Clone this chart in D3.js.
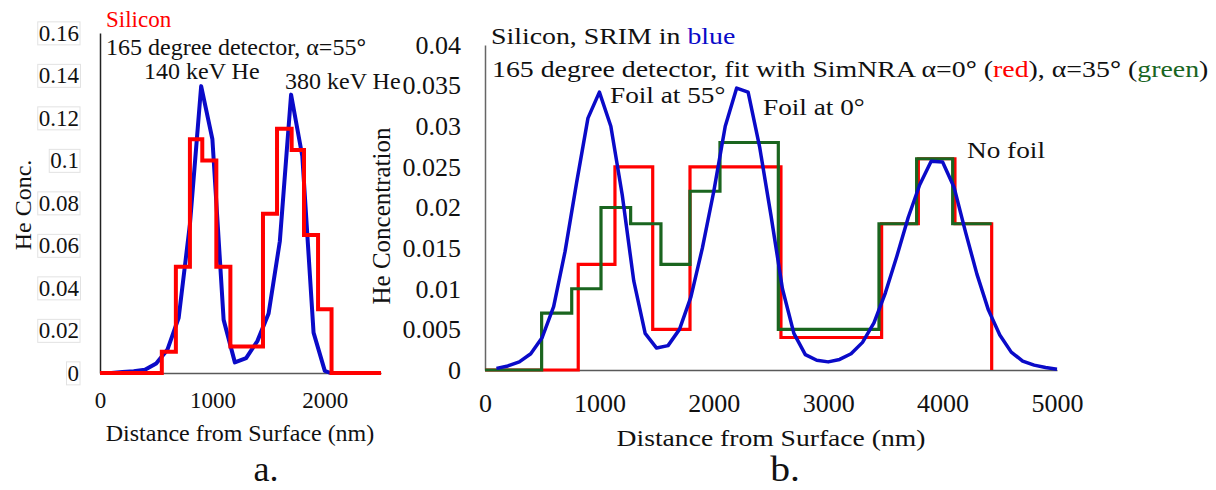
<!DOCTYPE html>
<html>
<head>
<meta charset="utf-8">
<script src="https://cdn.jsdelivr.net/npm/d3@7/dist/d3.min.js"></script>
<style>
  body { margin: 0; background: #fff; }
  svg text { font-family: "Liberation Serif", "Times New Roman", serif; fill: #111; }
</style>
</head>
<body>
<div id="chart"></div>
<script>
    // ---- panel a: SRIM profile (blue) and SimNRA fit (red), alpha = 55
    var aSrimDepth = [100, 200, 300, 400, 500, 600, 700, 800, 900, 1000, 1100, 1200, 1300, 1400, 1500, 1600, 1700, 1800, 1900, 2000, 2050];
    var aSrimConc = [0, 0.0005, 0.0008, 0.0015, 0.0045, 0.011, 0.026, 0.07, 0.135, 0.11, 0.025, 0.005, 0.007, 0.015, 0.028, 0.062, 0.131, 0.102, 0.019, 0.001, 0];

    // step fit: level[i] holds from edge[i] to edge[i+1]
    var aFitEdge = [0, 550, 675, 800, 910, 1035, 1160, 1450, 1575, 1705, 1815, 1940, 2060, 2500];
    var aFitLevel = [0, 0.01, 0.05, 0.11, 0.1, 0.05, 0.0125, 0.075, 0.115, 0.105, 0.065, 0.03, 0, 0];

    var aYTicks = [0, 0.02, 0.04, 0.06, 0.08, 0.1, 0.12, 0.14, 0.16];
    var aYTickLabels = ["0", "0.02", "0.04", "0.06", "0.08", "0.1", "0.12", "0.14", "0.16"];
    var aXTicks = [0, 1000, 2000];
    var aXTickLabels = ["0", "1000", "2000"];

    // ---- panel b: SRIM (blue), SimNRA alpha=0 (red), alpha=35 (green)
    var bSrimDepth = [100, 200, 300, 400, 500, 600, 700, 800, 900, 1000,
      1100, 1200, 1300, 1400, 1500, 1600, 1700, 1800, 1900, 2000,
      2100, 2200, 2300, 2400, 2500, 2600, 2700, 2800, 2900, 3000,
      3100, 3200, 3300, 3400, 3500, 3600, 3700, 3800, 3900, 4000,
      4100, 4200, 4300, 4400, 4500, 4600, 4700, 4800, 4900, 5000];
    var bSrimConc = [0.0002, 0.0005, 0.001, 0.002, 0.004, 0.0078, 0.0146, 0.023, 0.031, 0.0342,
      0.03, 0.0215, 0.011, 0.0045, 0.0027, 0.003, 0.005, 0.009, 0.015, 0.022,
      0.03, 0.0347, 0.0342, 0.0275, 0.019, 0.01, 0.0045, 0.0019, 0.0012, 0.001,
      0.0013, 0.002, 0.0034, 0.0058, 0.0095, 0.014, 0.0188, 0.0228, 0.0257, 0.0256,
      0.0225, 0.017, 0.0118, 0.0074, 0.0043, 0.0022, 0.0011, 0.0006, 0.0003, 0.0001];

    var bRedEdge = [0, 815, 1136, 1466, 1792, 2587, 3467, 3788, 4108, 4429];
    var bRedLevel = [0, 0.013, 0.025, 0.005, 0.025, 0.004, 0.018, 0.026, 0.018, 0];

    var bGreenEdge = [0, 495, 758, 1014, 1273, 1538, 1792, 2054, 2564, 3444, 3773, 4088, 4429];
    var bGreenLevel = [0, 0.007, 0.01, 0.02, 0.018, 0.013, 0.022, 0.028, 0.005, 0.018, 0.026, 0.018, 0.018];

    var bYTicks = [0, 0.005, 0.01, 0.015, 0.02, 0.025, 0.03, 0.035, 0.04];
    var bYTickLabels = ["0", "0.005", "0.01", "0.015", "0.02", "0.025", "0.03", "0.035", "0.04"];
    var bXTicks = [0, 1000, 2000, 3000, 4000, 5000];
    var bXTickLabels = ["0", "1000", "2000", "3000", "4000", "5000"];

    var blue = "#0a0ac8", red = "#ff0000", green = "#1a651f";

    var svg = d3.select("#chart")
      .append("svg")
      .attr("width", 1216)
      .attr("height", 490);

    // helper for plain labels; sx stretches text sideways like the original image
    function label(x, y, str, size, anchor, sx) {
      return svg.append("text")
        .attr("transform", "translate(" + x + "," + y + ")" + (sx ? " scale(" + sx + ",1)" : ""))
        .attr("font-size", size)
        .attr("text-anchor", anchor || "start")
        .text(str);
    }

    function stepPoints(edge, level) {
      return edge.map(function (e, i) { return [e, level[i]]; });
    }

    // =================== panel a ===================
    var xA = d3.scaleLinear().domain([0, 2500]).range([100, 381]);
    var yA = d3.scaleLinear().domain([0, 0.16]).range([373, 33]);

    var yAxisA = svg.append("g")
      .attr("transform", "translate(100,0)")
      .call(d3.axisLeft(yA).tickValues(aYTicks)
        .tickFormat(function (d, i) { return aYTickLabels[i]; })
        .tickSize(0).tickPadding(21))
      .attr("font-family", null)
      .attr("font-size", 23);
    yAxisA.select(".domain").attr("stroke", "#222").attr("stroke-width", 1.5);

    // the original labels sit in faint boxes
    yAxisA.selectAll(".tick").each(function () {
      var b = d3.select(this).select("text").node().getBBox();
      d3.select(this).insert("rect", "text")
        .attr("x", b.x - 1).attr("y", b.y + 1)
        .attr("width", b.width + 2).attr("height", b.height - 2)
        .attr("fill", "none").attr("stroke", "#e2e2e2").attr("stroke-width", 1);
    });

    var xAxisA = svg.append("g")
      .attr("transform", "translate(0,373)")
      .call(d3.axisBottom(xA).tickValues(aXTicks)
        .tickFormat(function (d, i) { return aXTickLabels[i]; })
        .tickSize(0).tickPadding(19))
      .attr("font-family", null)
      .attr("font-size", 23);
    xAxisA.select(".domain").attr("stroke", "#595959").attr("stroke-width", 1.5);

    var lineA = d3.line()
      .x(function (d) { return xA(d[0]); })
      .y(function (d) { return yA(d[1]); });

    svg.append("path")
      .datum(aSrimDepth.map(function (d, i) { return [d, aSrimConc[i]]; }))
      .attr("d", lineA)
      .attr("fill", "none").attr("stroke", blue).attr("stroke-width", 4)
      .attr("stroke-linejoin", "round");

    svg.append("path")
      .datum(stepPoints(aFitEdge, aFitLevel))
      .attr("d", lineA.curve(d3.curveStepAfter))
      .attr("fill", "none").attr("stroke", red).attr("stroke-width", 4);

    label(106, 27, "Silicon", 23).style("fill", red);
    label(106, 55, "165 degree detector, α=55", 24).append("tspan").attr("font-weight", "bold").text("°");
    label(144, 79, "140 keV He", 24);
    label(285, 89, "380 keV He", 24);

    svg.append("text")
      .attr("transform", "translate(31,205) rotate(-90)")
      .attr("font-size", 24).attr("text-anchor", "middle")
      .text("He Conc.");

    label(240, 441, "Distance from Surface (nm)", 24, "middle");
    label(266, 481, "a.", 36, "middle");

    // =================== panel b ===================
    var xB = d3.scaleLinear().domain([0, 5000]).range([485, 1057]);
    var yB = d3.scaleLinear().domain([0, 0.04]).range([370, 45]);

    var yAxisB = svg.append("g")
      .attr("transform", "translate(485,0)")
      .call(d3.axisLeft(yB).tickValues(bYTicks)
        .tickFormat(function (d, i) { return bYTickLabels[i]; })
        .tickSize(0).tickPadding(24))
      .attr("font-family", null)
      .attr("font-size", 26);
    yAxisB.select(".domain").attr("stroke", "#666").attr("stroke-width", 1.5);

    var xAxisB = svg.append("g")
      .attr("transform", "translate(0,370)")
      .call(d3.axisBottom(xB).tickValues(bXTicks)
        .tickFormat(function (d, i) { return bXTickLabels[i]; })
        .tickSize(0).tickPadding(24))
      .attr("font-family", null)
      .attr("font-size", 26);
    xAxisB.select(".domain").attr("stroke", "#595959").attr("stroke-width", 1.5);

    var lineB = d3.line()
      .x(function (d) { return xB(d[0]); })
      .y(function (d) { return yB(d[1]); });
    var stepB = d3.line()
      .x(function (d) { return xB(d[0]); })
      .y(function (d) { return yB(d[1]); })
      .curve(d3.curveStepAfter);

    svg.append("path")
      .datum(stepPoints(bRedEdge, bRedLevel))
      .attr("d", stepB)
      .attr("fill", "none").attr("stroke", red).attr("stroke-width", 3.2);

    svg.append("path")
      .datum(stepPoints(bGreenEdge, bGreenLevel))
      .attr("d", stepB)
      .attr("fill", "none").attr("stroke", green).attr("stroke-width", 3.2);

    svg.append("path")
      .datum(bSrimDepth.map(function (d, i) { return [d, bSrimConc[i]]; }))
      .attr("d", lineB)
      .attr("fill", "none").attr("stroke", blue).attr("stroke-width", 3.5)
      .attr("stroke-linejoin", "round");

    var t1 = label(491, 44, "Silicon, SRIM in ", 24, "start", 1.16);
    t1.append("tspan").style("fill", blue).text("blue");

    var t2 = label(492, 77, "165 degree detector, fit with SimNRA α=0", 24, "start", 1.16);
    t2.append("tspan").attr("font-weight", "bold").text("°");
    t2.append("tspan").text(" (");
    t2.append("tspan").style("fill", red).text("red");
    t2.append("tspan").text("), α=35");
    t2.append("tspan").attr("font-weight", "bold").text("°");
    t2.append("tspan").text(" (");
    t2.append("tspan").style("fill", green).text("green");
    t2.append("tspan").text(")");

    label(610, 103, "Foil at 55°", 23.5, "start", 1.16);
    label(763, 115, "Foil at 0°", 23.5, "start", 1.16);
    label(967, 158, "No foil", 23.5, "start", 1.16);

    svg.append("text")
      .attr("transform", "translate(390,216) rotate(-90)")
      .attr("font-size", 25).attr("text-anchor", "middle")
      .text("He Concentration");

    label(771, 446, "Distance from Surface (nm)", 24, "middle", 1.15);
    label(785, 481, "b.", 36, "middle", 1.1);
</script>
</body>
</html>
